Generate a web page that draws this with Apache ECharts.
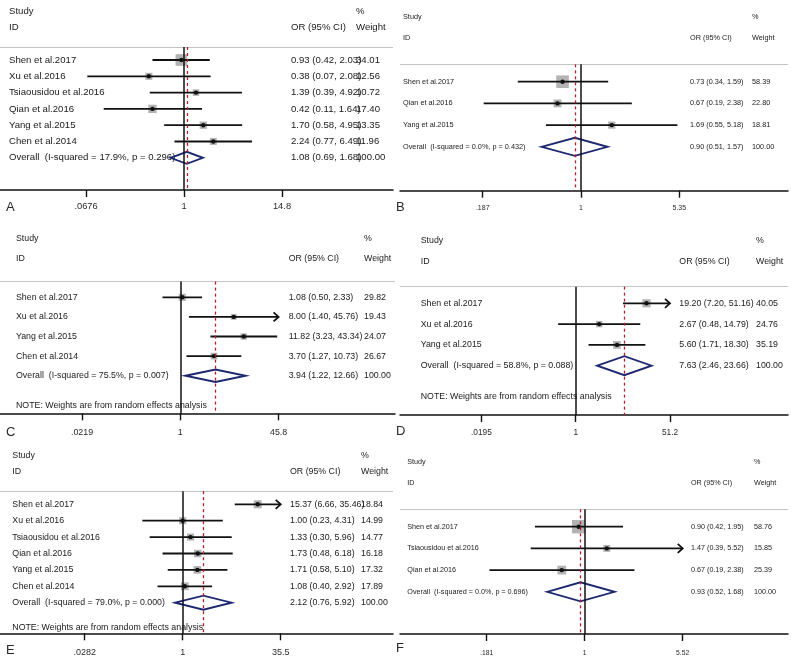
<!DOCTYPE html>
<html>
<head>
<meta charset="utf-8">
<script src="https://cdn.jsdelivr.net/npm/echarts@6/dist/echarts.min.js"></script>
<style>
  html, body { margin: 0; padding: 0; background: #fff; }
  #main { width: 800px; height: 661px; }
</style>
</head>
<body>
<div id="main"></div>
<script>
// ---- data: one set of arrays per panel ----
const studiesA = ['Shen et al.2017', 'Xu et al.2016', 'Tsiaousidou et al.2016', 'Qian et al.2016', 'Yang et al.2015', 'Chen et al.2014']
const orA = [0.93, 0.38, 1.39, 0.42, 1.70, 2.24]
const lowerA = [0.42, 0.07, 0.39, 0.11, 0.58, 0.77]
const upperA = [2.03, 2.08, 4.92, 1.64, 4.95, 6.49]
const weightA = [34.01, 12.56, 10.72, 17.40, 13.35, 11.96]
const overallA = [1.08, 0.69, 1.68]
const hetA = 'Overall  (I-squared = 17.9%, p = 0.296)'
const ticksA = [0.0676, 1, 14.8]
const tickLabelsA = ['.0676', '1', '14.8']

const studiesB = ['Shen et al.2017', 'Qian et al.2016', 'Yang et al.2015']
const orB = [0.73, 0.67, 1.69]
const lowerB = [0.34, 0.19, 0.55]
const upperB = [1.59, 2.38, 5.18]
const weightB = [58.39, 22.80, 18.81]
const overallB = [0.90, 0.51, 1.57]
const hetB = 'Overall  (I-squared = 0.0%, p = 0.432)'
const ticksB = [0.187, 1, 5.35]
const tickLabelsB = ['.187', '1', '5.35']

const studiesC = ['Shen et al.2017', 'Xu et al.2016', 'Yang et al.2015', 'Chen et al.2014']
const orC = [1.08, 8.00, 11.82, 3.70]
const lowerC = [0.50, 1.40, 3.23, 1.27]
const upperC = [2.33, 45.76, 43.34, 10.73]
const weightC = [29.82, 19.43, 24.07, 26.67]
const overallC = [3.94, 1.22, 12.66]
const hetC = 'Overall  (I-squared = 75.5%, p = 0.007)'
const ticksC = [0.0219, 1, 45.8]
const tickLabelsC = ['.0219', '1', '45.8']

const studiesD = ['Shen et al.2017', 'Xu et al.2016', 'Yang et al.2015']
const orD = [19.20, 2.67, 5.60]
const lowerD = [7.20, 0.48, 1.71]
const upperD = [51.16, 14.79, 18.30]
const weightD = [40.05, 24.76, 35.19]
const overallD = [7.63, 2.46, 23.66]
const hetD = 'Overall  (I-squared = 58.8%, p = 0.088)'
const ticksD = [0.0195, 1, 51.2]
const tickLabelsD = ['.0195', '1', '51.2']

const studiesE = ['Shen et al.2017', 'Xu et al.2016', 'Tsiaousidou et al.2016', 'Qian et al.2016', 'Yang et al.2015', 'Chen et al.2014']
const orE = [15.37, 1.00, 1.33, 1.73, 1.71, 1.08]
const lowerE = [6.66, 0.23, 0.30, 0.48, 0.58, 0.40]
const upperE = [35.46, 4.31, 5.96, 6.18, 5.10, 2.92]
const weightE = [18.84, 14.99, 14.77, 16.18, 17.32, 17.89]
const overallE = [2.12, 0.76, 5.92]
const hetE = 'Overall  (I-squared = 79.0%, p = 0.000)'
const ticksE = [0.0282, 1, 35.5]
const tickLabelsE = ['.0282', '1', '35.5']

const studiesF = ['Shen et al.2017', 'Tsiaousidou et al.2016', 'Qian et al.2016']
const orF = [0.90, 1.47, 0.67]
const lowerF = [0.42, 0.39, 0.19]
const upperF = [1.95, 5.52, 2.38]
const weightF = [58.76, 15.85, 25.39]
const overallF = [0.93, 0.52, 1.68]
const hetF = 'Overall  (I-squared = 0.0%, p = 0.696)'
const ticksF = [0.181, 1, 5.52]
const tickLabelsF = ['.181', '1', '5.52']

const NOTE = 'NOTE: Weights are from random effects analysis'

// ---- layout of each panel (pixels) ----
const panels = [
  { letter: 'A', studies: studiesA, or: orA, lower: lowerA, upper: upperA, weight: weightA, overall: overallA, het: hetA, ticks: ticksA, tickLabels: tickLabelsA, note: false,
    lay: { left: 0, right: 393, x1: 184, tickPx: 98, row0: 60, sp: 16.3, axisY: 190, font: 9.6, tickFont: 9.3, tickGap: 17, nameX: 9, orX: 291, wX: 356, boxK: 2.0, dia: 12, letterX: 6, letterY: 208 } },
  { letter: 'B', studies: studiesB, or: orB, lower: lowerB, upper: upperB, weight: weightB, overall: overallB, het: hetB, ticks: ticksB, tickLabels: tickLabelsB, note: false,
    lay: { left: 400, right: 788, x1: 581, tickPx: 98.3, row0: 81.7, sp: 21.7, axisY: 190.7, font: 7.3, tickFont: 7, tickGap: 17.3, nameX: 403, orX: 690, wX: 752, boxK: 1.65, dia: 18, letterX: 396, letterY: 208 } },
  { letter: 'C', studies: studiesC, or: orC, lower: lowerC, upper: upperC, weight: weightC, overall: overallC, het: hetC, ticks: ticksC, tickLabels: tickLabelsC, note: true,
    lay: { left: 0, right: 395, x1: 180.3, tickPx: 98.3, row0: 297.3, sp: 19.6, axisY: 413.3, font: 8.8, tickFont: 8.9, tickGap: 19.7, nameX: 16, orX: 288.7, wX: 364, boxK: 1.3, dia: 12.5, letterX: 6, letterY: 433 } },
  { letter: 'D', studies: studiesD, or: orD, lower: lowerD, upper: upperD, weight: weightD, overall: overallD, het: hetD, ticks: ticksD, tickLabels: tickLabelsD, note: true,
    lay: { left: 400, right: 788, x1: 575.7, tickPx: 94.3, row0: 303.3, sp: 20.8, axisY: 415, font: 8.8, tickFont: 8.3, tickGap: 18.3, nameX: 420.7, orX: 679.3, wX: 756, boxK: 1.3, dia: 19, letterX: 396, letterY: 432 } },
  { letter: 'E', studies: studiesE, or: orE, lower: lowerE, upper: upperE, weight: weightE, overall: overallE, het: hetE, ticks: ticksE, tickLabels: tickLabelsE, note: true,
    lay: { left: 0, right: 393, x1: 182.7, tickPx: 98, row0: 504.3, sp: 16.4, axisY: 633.3, font: 8.8, tickFont: 9, tickGap: 19.4, nameX: 12.3, orX: 290, wX: 361, boxK: 1.85, dia: 14, letterX: 6, letterY: 651 } },
  { letter: 'F', studies: studiesF, or: orF, lower: lowerF, upper: upperF, weight: weightF, overall: overallF, het: hetF, ticks: ticksF, tickLabels: tickLabelsF, note: false,
    lay: { left: 400, right: 788, x1: 584.7, tickPx: 98, row0: 526.7, sp: 21.7, axisY: 634, font: 7.2, tickFont: 6.8, tickGap: 19.3, nameX: 407.3, orX: 691, wX: 754, boxK: 1.74, dia: 19, letterX: 396, letterY: 649 } }
]

const FONT = 'Liberation Sans, Arial, sans-serif'
const TOP_ROW = -3.5
const SEP_ROW = -0.8
const ln = Math.log
const fmt = v => v.toFixed(2)

// pick the text whose position matches v
const labelAt = (vals, texts, v) => {
  for (let k = 0; k < vals.length; k++) {
    if (Math.abs(vals[k] - v) < 1e-6) return texts[k]
  }
  return ''
}

const grid = [], xAxis = [], yAxis = [], series = [], graphic = []

panels.forEach((p, i) => {
  const L = p.lay
  const n = p.studies.length
  const pxPerLn = L.tickPx / ln(p.ticks[2])
  const xmin = (L.left - L.x1) / pxPerLn
  const xmax = (L.right - L.x1) / pxPerLn
  const bottomRow = (L.axisY - L.row0) / L.sp
  const gridTop = L.row0 + TOP_ROW * L.sp

  grid.push({ left: L.left, top: gridTop, width: L.right - L.left, height: L.axisY - gridTop, outerBoundsMode: 'none' })

  const tickVals = p.ticks.map(t => ln(t))
  xAxis.push({
    type: 'value', gridIndex: i, min: xmin, max: xmax,
    axisLine: { onZero: false, lineStyle: { color: '#111', width: 1.5 } },
    axisTick: { customValues: tickVals, length: 7, lineStyle: { color: '#111', width: 1.4 } },
    axisLabel: {
      customValues: tickVals, formatter: v => labelAt(tickVals, p.tickLabels, v),
      fontSize: L.tickFont, color: '#2a2a2a', fontFamily: FONT, margin: L.tickGap - L.tickFont / 2
    },
    splitLine: { show: false }
  })

  // main y axis: rows, top to bottom
  yAxis.push({ type: 'value', gridIndex: i, inverse: true, min: TOP_ROW, max: bottomRow, show: false })

  const textAxis = (rows, texts, x) => ({
    type: 'value', gridIndex: i, inverse: true, min: TOP_ROW, max: bottomRow, position: 'left',
    axisLine: { show: false, onZero: false }, axisTick: { show: false }, splitLine: { show: false },
    axisLabel: {
      inside: true, align: 'left', margin: x - L.left, customValues: rows,
      formatter: v => labelAt(rows, texts, v),
      fontSize: L.font, color: '#1a1a1a', fontFamily: FONT
    }
  })

  const idx = p.studies.map((s, k) => k)
  // study names column
  const nameRows = [-3, -2, ...idx, n]
  const nameTexts = ['Study', 'ID', ...p.studies, p.het]
  if (p.note) { nameRows.push(n + 1.5); nameTexts.push(NOTE) }
  yAxis.push(textAxis(nameRows, nameTexts, L.nameX))
  // OR (95% CI) column
  yAxis.push(textAxis([-2, ...idx, n],
    ['OR (95% CI)', ...idx.map(k => fmt(p.or[k]) + ' (' + fmt(p.lower[k]) + ', ' + fmt(p.upper[k]) + ')'),
      fmt(p.overall[0]) + ' (' + fmt(p.overall[1]) + ', ' + fmt(p.overall[2]) + ')'], L.orX))
  // weight column
  yAxis.push(textAxis([-3, -2, ...idx, n], ['%', 'Weight', ...p.weight.map(fmt), '100.00'], L.wX))

  const yi = i * 4

  // study boxes, CI lines, arrows
  series.push({
    type: 'custom', xAxisIndex: i, yAxisIndex: yi, z: 2, silent: true,
    data: idx.map(k => [ln(p.or[k]), ln(p.lower[k]), ln(p.upper[k]), p.weight[k], k, p.upper[k] >= p.ticks[2] * 0.99 ? 1 : 0]),
    renderItem: (params, api) => {
      const y = api.value(4)
      const c = api.coord([api.value(0), y])
      const a = api.coord([api.value(1), y])
      const b = api.coord([api.value(2), y])
      const s = L.boxK * Math.sqrt(api.value(3))
      const kids = [
        { type: 'rect', shape: { x: c[0] - s / 2, y: c[1] - s / 2, width: s, height: s }, style: { fill: '#b3b3b3' } },
        { type: 'line', shape: { x1: a[0], y1: a[1], x2: b[0], y2: b[1] }, style: { stroke: '#111', lineWidth: 1.8 } },
        { type: 'circle', shape: { cx: c[0], cy: c[1], r: 2.2 }, style: { fill: '#111' } }
      ]
      if (api.value(5)) {
        kids.push({ type: 'polyline', shape: { points: [[b[0] - 5, b[1] - 4.5], [b[0], b[1]], [b[0] - 5, b[1] + 4.5]] }, style: { stroke: '#111', lineWidth: 1.8, fill: 'none' } })
      }
      return { type: 'group', children: kids }
    }
  })

  // overall diamond
  series.push({
    type: 'custom', xAxisIndex: i, yAxisIndex: yi, z: 2, silent: true,
    data: [[ln(p.overall[0]), ln(p.overall[1]), ln(p.overall[2]), n]],
    renderItem: (params, api) => {
      const y = api.value(3)
      const c = api.coord([api.value(0), y])
      const a = api.coord([api.value(1), y])
      const b = api.coord([api.value(2), y])
      const h = L.dia / 2
      return {
        type: 'polygon',
        shape: { points: [[a[0], a[1]], [c[0], c[1] - h], [b[0], b[1]], [c[0], c[1] + h]] },
        style: { fill: 'none', stroke: '#1d2870', lineWidth: 1.9 }
      }
    }
  })

  // separator, line of no effect, overall estimate
  const oX = ln(p.overall[0])
  series.push({
    type: 'line', xAxisIndex: i, yAxisIndex: yi, data: [], silent: true, z: 3,
    markLine: {
      silent: true, symbol: ['none', 'none'], label: { show: false }, animation: false,
      data: [
        [{ coord: [xmin, SEP_ROW], lineStyle: { color: '#c4c4c4', width: 1, type: 'solid' } }, { coord: [xmax, SEP_ROW] }],
        [{ coord: [0, SEP_ROW], lineStyle: { color: '#111', width: 1.5, type: 'solid' } }, { coord: [0, bottomRow] }],
        [{ coord: [oX, SEP_ROW], lineStyle: { color: '#b3202a', width: 1.3, type: [3, 3] } }, { coord: [oX, bottomRow] }]
      ]
    }
  })

  graphic.push({
    type: 'text', left: L.letterX, top: L.letterY - 7,
    style: { text: p.letter, fontSize: 13, fill: '#2a2a2a', fontFamily: FONT }
  })
})

const chart = echarts.init(document.getElementById('main'))
chart.setOption({
  animation: false,
  backgroundColor: '#fff',
  grid, xAxis, yAxis, series, graphic
})
</script>
</body>
</html>
